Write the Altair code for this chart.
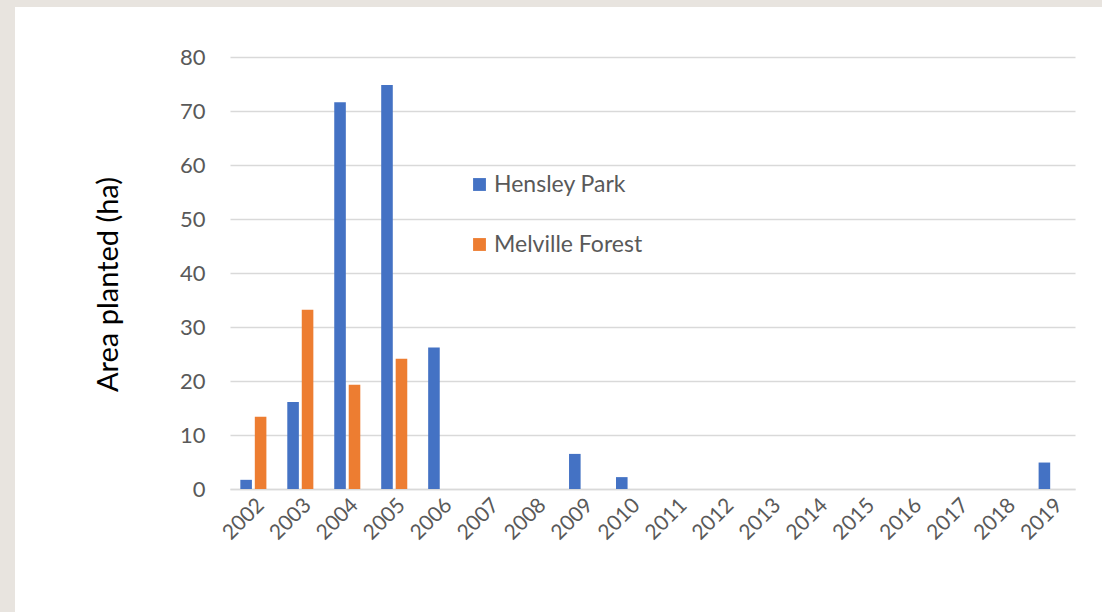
import altair as alt
import pandas as pd

years = [str(y) for y in range(2002, 2020)]
hensley = [1.7, 16.1, 71.6, 74.8, 26.2, 0, 0, 6.5, 2.2, 0, 0, 0, 0, 0, 0, 0, 0, 4.9]
melville = [13.4, 33.2, 19.3, 24.1, 0, 0, 0, 0, 0, 0, 0, 0, 0, 0, 0, 0, 0, 0]
series = ["Hensley Park", "Melville Forest"]
colors = ["#4472C4", "#ED7D31"]

rows = []
for i, y in enumerate(years):
    rows.append({"year": y, "series": series[0], "value": hensley[i]})
    rows.append({"year": y, "series": series[1], "value": melville[i]})
df = pd.DataFrame(rows)

FONT = "Lato"
W, H = 845, 432
PL, PT = 230, 57
FRAME = "#e8e4df"

one = pd.DataFrame({"a": [0]})
left_strip = alt.Chart(one).mark_rect(color=FRAME).encode(
    x=alt.value(-PL), x2=alt.value(15 - PL),
    y=alt.value(-PT), y2=alt.value(612 - PT)
)
top_strip = alt.Chart(one).mark_rect(color=FRAME).encode(
    x=alt.value(-PL), x2=alt.value(1102 - PL),
    y=alt.value(-PT), y2=alt.value(7 - PT)
)

bars = alt.Chart(df).mark_bar(stroke=None).encode(
    x=alt.X("year:N", sort=years,
            scale=alt.Scale(paddingInner=0.445, paddingOuter=0.22),
            axis=alt.Axis(title=None, labelAngle=-45, labelFontSize=21, labelColor="#595959",
                          labelFont=FONT, domain=True, domainColor="#d9d9d9", domainWidth=1.5,
                          ticks=False, labelPadding=5, labelAlign="right", labelBaseline="top")),
    xOffset=alt.XOffset("series:N", sort=series,
                        scale=alt.Scale(paddingInner=0.2, paddingOuter=0)),
    y=alt.Y("value:Q", scale=alt.Scale(domain=[0, 80]),
            axis=alt.Axis(title="Area planted (ha)", titleFontSize=29, titleFont=FONT,
                          titleColor="#000000", titleFontWeight="normal", titlePadding=56,
                          titleY=227,
                          labelFontSize=22, labelColor="#595959", labelFont=FONT,
                          values=list(range(0, 81, 10)), domain=False, ticks=False,
                          labelPadding=25, gridColor="#d9d9d9", gridWidth=1.5)),
    color=alt.Color("series:N", sort=series,
                    scale=alt.Scale(domain=series, range=colors),
                    legend=alt.Legend(title=None, orient="none", legendX=238, legendY=116,
                                      symbolType="square", symbolSize=165, symbolStrokeWidth=0,
                                      labelFontSize=23, labelFont=FONT, labelColor="#595959",
                                      rowPadding=36, labelOffset=3)),
)

chart = alt.layer(left_strip, top_strip, bars).properties(
    width=W, height=H,
    background="white",
    padding={"left": PL, "top": PT, "right": 1102 - PL - W, "bottom": 612 - PT - H},
    autosize=alt.AutoSizeParams(type="none"),
).configure_view(stroke=None)

chart.save("out.html", embed_options={"renderer": "svg", "actions": False})
